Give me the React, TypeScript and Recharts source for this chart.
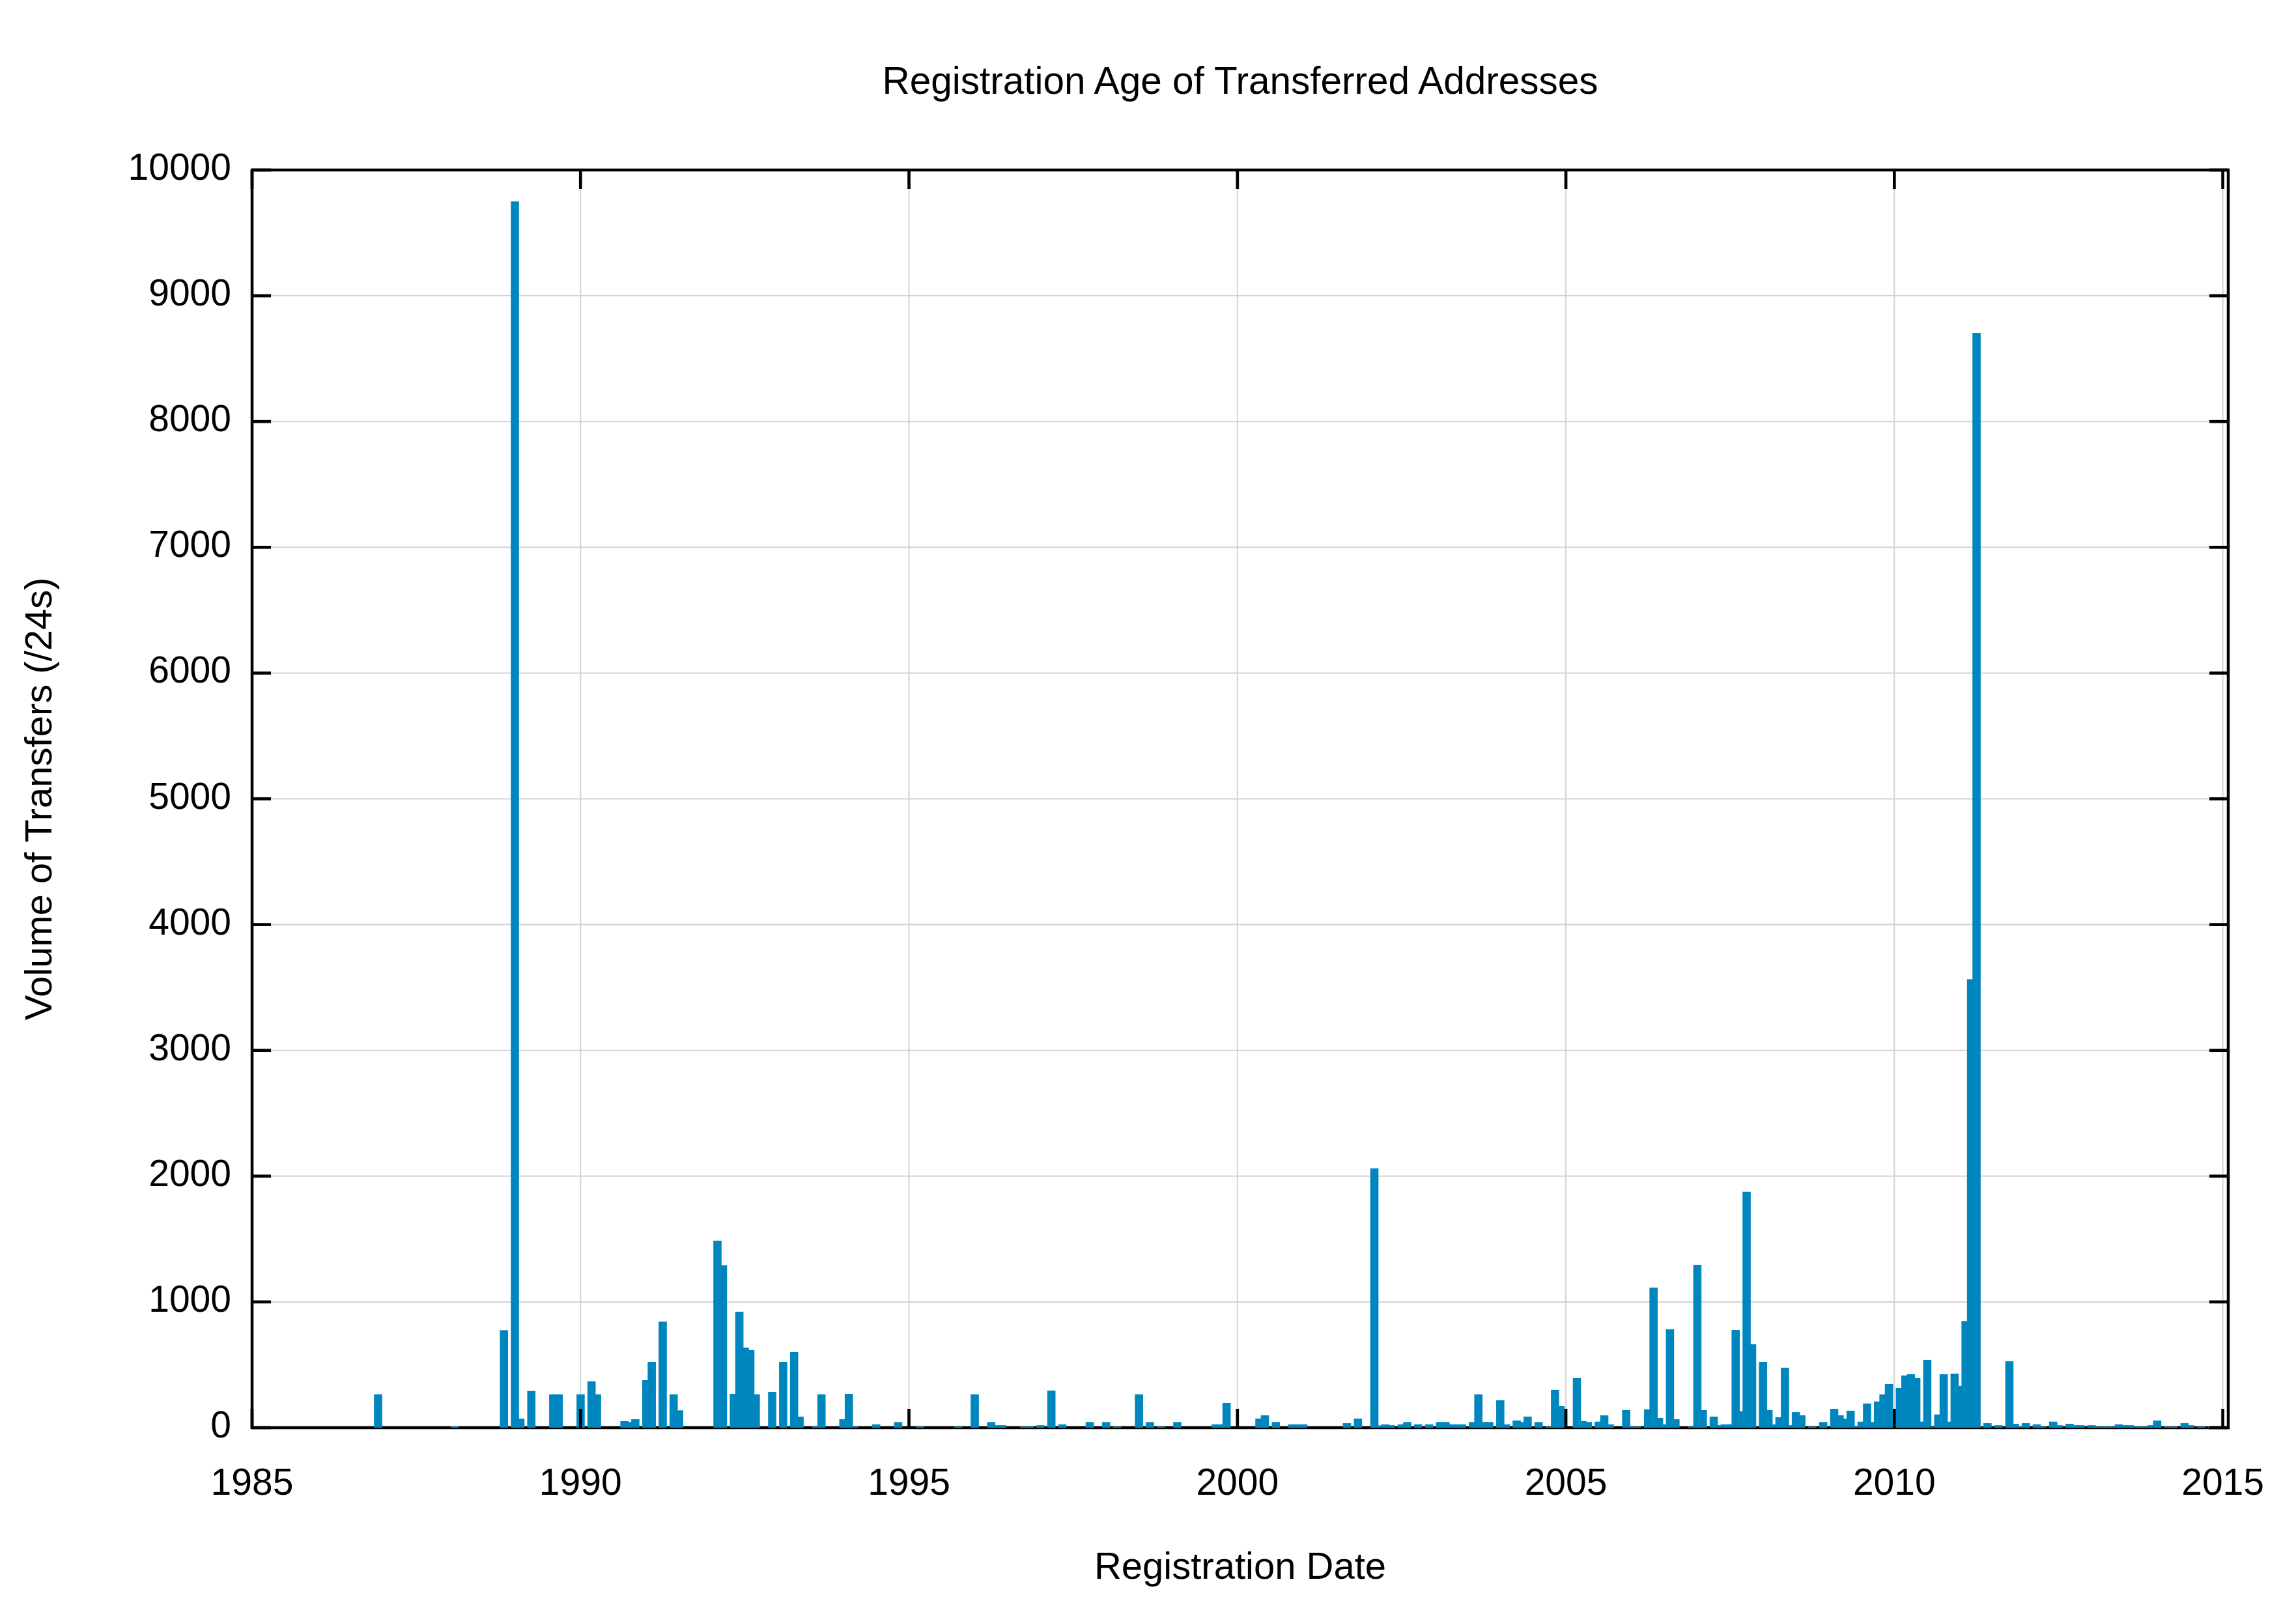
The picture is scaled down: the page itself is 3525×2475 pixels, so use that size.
import { BarChart, Bar, XAxis, YAxis, CartesianGrid, Label, ReferenceArea } from "recharts";

// registration month of the transferred blocks, and how many /24s came from it
const regMonths = [
  "1986-12", "1988-02", "1988-11", "1989-01", "1989-02", "1989-04", "1989-08", "1989-09",
  "1990-01", "1990-03", "1990-04", "1990-09", "1990-10", "1990-11", "1991-01", "1991-02",
  "1991-04", "1991-06", "1991-07", "1992-02", "1992-03", "1992-05", "1992-06", "1992-07",
  "1992-08", "1992-09", "1992-12", "1993-02", "1993-04", "1993-05", "1993-08", "1993-09",
  "1994-01", "1994-02", "1994-03", "1994-07", "1994-11", "1995-03", "1995-10", "1996-01",
  "1996-04", "1996-05", "1996-06", "1996-10", "1996-11", "1997-01", "1997-03", "1997-05",
  "1997-10", "1998-01", "1998-03", "1998-07", "1998-09", "1998-11", "1999-02", "1999-09",
  "1999-10", "1999-11", "2000-05", "2000-06", "2000-08", "2000-11", "2000-12", "2001-01",
  "2001-09", "2001-11", "2002-02", "2002-03", "2002-04", "2002-05", "2002-07", "2002-08",
  "2002-10", "2002-12", "2003-02", "2003-03", "2003-04", "2003-05", "2003-06", "2003-08",
  "2003-09", "2003-10", "2003-11", "2004-01", "2004-02", "2004-04", "2004-05", "2004-06",
  "2004-08", "2004-10", "2004-11", "2004-12", "2005-03", "2005-04", "2005-05", "2005-07",
  "2005-08", "2005-09", "2005-12", "2006-01", "2006-02", "2006-04", "2006-05", "2006-06",
  "2006-07", "2006-08", "2006-09", "2006-12", "2007-01", "2007-02", "2007-04", "2007-05",
  "2007-06", "2007-07", "2007-08", "2007-09", "2007-10", "2007-11", "2008-01", "2008-02",
  "2008-03", "2008-04", "2008-05", "2008-06", "2008-07", "2008-08", "2008-10", "2008-12",
  "2009-02", "2009-03", "2009-04", "2009-05", "2009-06", "2009-07", "2009-08", "2009-09",
  "2009-10", "2009-11", "2009-12", "2010-02", "2010-03", "2010-04", "2010-05", "2010-06",
  "2010-07", "2010-08", "2010-09", "2010-10", "2010-11", "2010-12", "2011-01", "2011-02",
  "2011-03", "2011-04", "2011-05", "2011-06", "2011-08", "2011-10", "2011-11", "2011-12",
  "2012-01", "2012-03", "2012-04", "2012-06", "2012-07", "2012-09", "2012-10", "2012-11",
  "2013-01", "2013-02", "2013-03", "2013-04", "2013-05", "2013-06", "2013-07", "2013-08",
  "2013-09", "2013-10", "2013-11", "2013-12", "2014-01", "2014-03", "2014-04", "2014-06",
  "2014-07", "2014-09", "2014-11", "2015-01",
];

const transfers = [
  265, 10, 775, 9750, 72, 292, 265, 265,
  265, 368, 265, 52, 45, 67, 378, 523,
  843, 265, 138, 1487, 1292, 269, 922, 637,
  617, 265, 285, 523, 601, 88, 8, 265,
  67, 269, 8, 26, 45, 8, 8, 265,
  45, 20, 20, 8, 8, 20, 295, 26,
  45, 45, 8, 265, 45, 8, 45, 26,
  26, 197, 72, 98, 45, 26, 26, 26,
  36, 72, 2062, 18, 26, 20, 26, 45,
  26, 26, 45, 45, 26, 26, 26, 45,
  265, 45, 45, 218, 26, 57, 45, 88,
  45, 8, 301, 171, 394, 52, 45, 48,
  98, 26, 140, 8, 8, 145, 1114, 78,
  26, 782, 67, 8, 1295, 140, 88, 20,
  26, 26, 777, 130, 1876, 663, 523, 140,
  26, 83, 477, 20, 124, 98, 8, 45,
  150, 98, 72, 135, 8, 48, 192, 45,
  208, 265, 347, 316, 415, 425, 394, 48,
  539, 5, 105, 425, 48, 430, 332, 848,
  3566, 8705, 3, 36, 20, 528, 31, 8,
  36, 26, 8, 48, 20, 31, 20, 20,
  20, 8, 8, 8, 8, 26, 20, 20,
  8, 8, 8, 20, 57, 8, 8, 36,
  20, 8, 8, 8,
];

const yearTicks = [1985, 1990, 1995, 2000, 2005, 2010, 2015];
const volumeTicks = [0, 1000, 2000, 3000, 4000, 5000, 6000, 7000, 8000, 9000, 10000];

const FONT = '"Liberation Sans", Arial, Helvetica, sans-serif';
const BAR_COLOR = "#0086bf";
// gnuplot boxes are ~1.5 months wide, so neighbours overlap
const BAR_WIDTH = 12.6;
const TICK_LEN = 29;
const TICK_W = 4.7;

function monthIndex(ym: string) {
  const [y, m] = ym.split("-").map(Number);
  return (y - 1985) * 12 + (m - 1);
}

const chartData = regMonths.map((d, i) => ({ month: monthIndex(d), volume: transfers[i] }));
const monthTicks = yearTicks.map((y) => (y - 1985) * 12);
const monthDomain = [0, 361];

function WideBox(props: any) {
  const { x, y, width, height, fill } = props;
  if (!height || height <= 0) return null;
  const cx = x + width / 2;
  return <rect x={cx - BAR_WIDTH / 2} y={y} width={BAR_WIDTH} height={height} fill={fill} />;
}

// gnuplot style: ticks point into the plot, on all four sides
function BottomTick({ x, y, payload }: any) {
  return (
    <g>
      <line x1={x} x2={x} y1={y} y2={y - TICK_LEN} stroke="#000" strokeWidth={TICK_W} />
      <text x={x} y={y + 103} textAnchor="middle" fill="#000" fontSize={57} fontFamily={FONT}>
        {1985 + payload.value / 12}
      </text>
    </g>
  );
}

function TopTick({ x, y }: any) {
  return <line x1={x} x2={x} y1={y} y2={y + TICK_LEN} stroke="#000" strokeWidth={TICK_W} />;
}

function LeftTick({ x, y, payload }: any) {
  return (
    <g>
      <line x1={x} x2={x + TICK_LEN} y1={y} y2={y} stroke="#000" strokeWidth={TICK_W} />
      <text x={x - 32} y={y + 15} textAnchor="end" fill="#000" fontSize={57} fontFamily={FONT}>
        {payload.value}
      </text>
    </g>
  );
}

function RightTick({ x, y }: any) {
  return <line x1={x} x2={x - TICK_LEN} y1={y} y2={y} stroke="#000" strokeWidth={TICK_W} />;
}

const labelStyle = { fill: "#000", fontSize: 58, fontFamily: FONT, textAnchor: "middle" as const };

export default function App() {
  return (
    <div style={{ position: "absolute", left: 0, top: 0, width: 3525, height: 2475, background: "#fff" }}>
      <div
        style={{
          position: "absolute",
          left: 387,
          top: 95,
          width: 3034,
          textAlign: "center",
          fontFamily: FONT,
          fontSize: 58.5,
          lineHeight: "58px",
          color: "#000",
        }}
      >
        Registration Age of Transferred Addresses
      </div>
      <BarChart
        width={3525}
        height={2475}
        data={chartData}
        margin={{ top: 260, right: 103, bottom: 183, left: 187 }}
      >
        <CartesianGrid stroke="#d3d3d3" strokeWidth={2} />
        <XAxis
          dataKey="month"
          type="number"
          domain={monthDomain}
          ticks={monthTicks}
          interval={0}
          allowDataOverflow
          height={100}
          axisLine={false}
          tickLine={false}
          tickSize={0}
          tickMargin={0}
          tick={<BottomTick />}
        >
          <Label value="Registration Date" position="bottom" offset={91} style={labelStyle} />
        </XAxis>
        <XAxis
          xAxisId="top"
          orientation="top"
          dataKey="month"
          type="number"
          domain={monthDomain}
          ticks={monthTicks}
          interval={0}
          allowDataOverflow
          height={1}
          axisLine={false}
          tickLine={false}
          tickSize={0}
          tickMargin={0}
          tick={<TopTick />}
        />
        <YAxis
          type="number"
          domain={[0, 10000]}
          ticks={volumeTicks}
          interval={0}
          allowDataOverflow
          width={200}
          axisLine={false}
          tickLine={false}
          tickSize={0}
          tickMargin={0}
          tick={<LeftTick />}
        >
          <Label value="Volume of Transfers (/24s)" position="left" angle={-90} offset={129} style={labelStyle} />
        </YAxis>
        <YAxis
          yAxisId="right"
          orientation="right"
          type="number"
          domain={[0, 10000]}
          ticks={volumeTicks}
          interval={0}
          allowDataOverflow
          width={1}
          axisLine={false}
          tickLine={false}
          tickSize={0}
          tickMargin={0}
          tick={<RightTick />}
        />
        <Bar dataKey="volume" fill={BAR_COLOR} shape={<WideBox />} isAnimationActive={false} />
        <ReferenceArea
          x1={0}
          x2={361}
          y1={0}
          y2={10000}
          fill="none"
          fillOpacity={0}
          stroke="#000"
          strokeWidth={4.5}
          ifOverflow="visible"
        />
      </BarChart>
    </div>
  );
}
